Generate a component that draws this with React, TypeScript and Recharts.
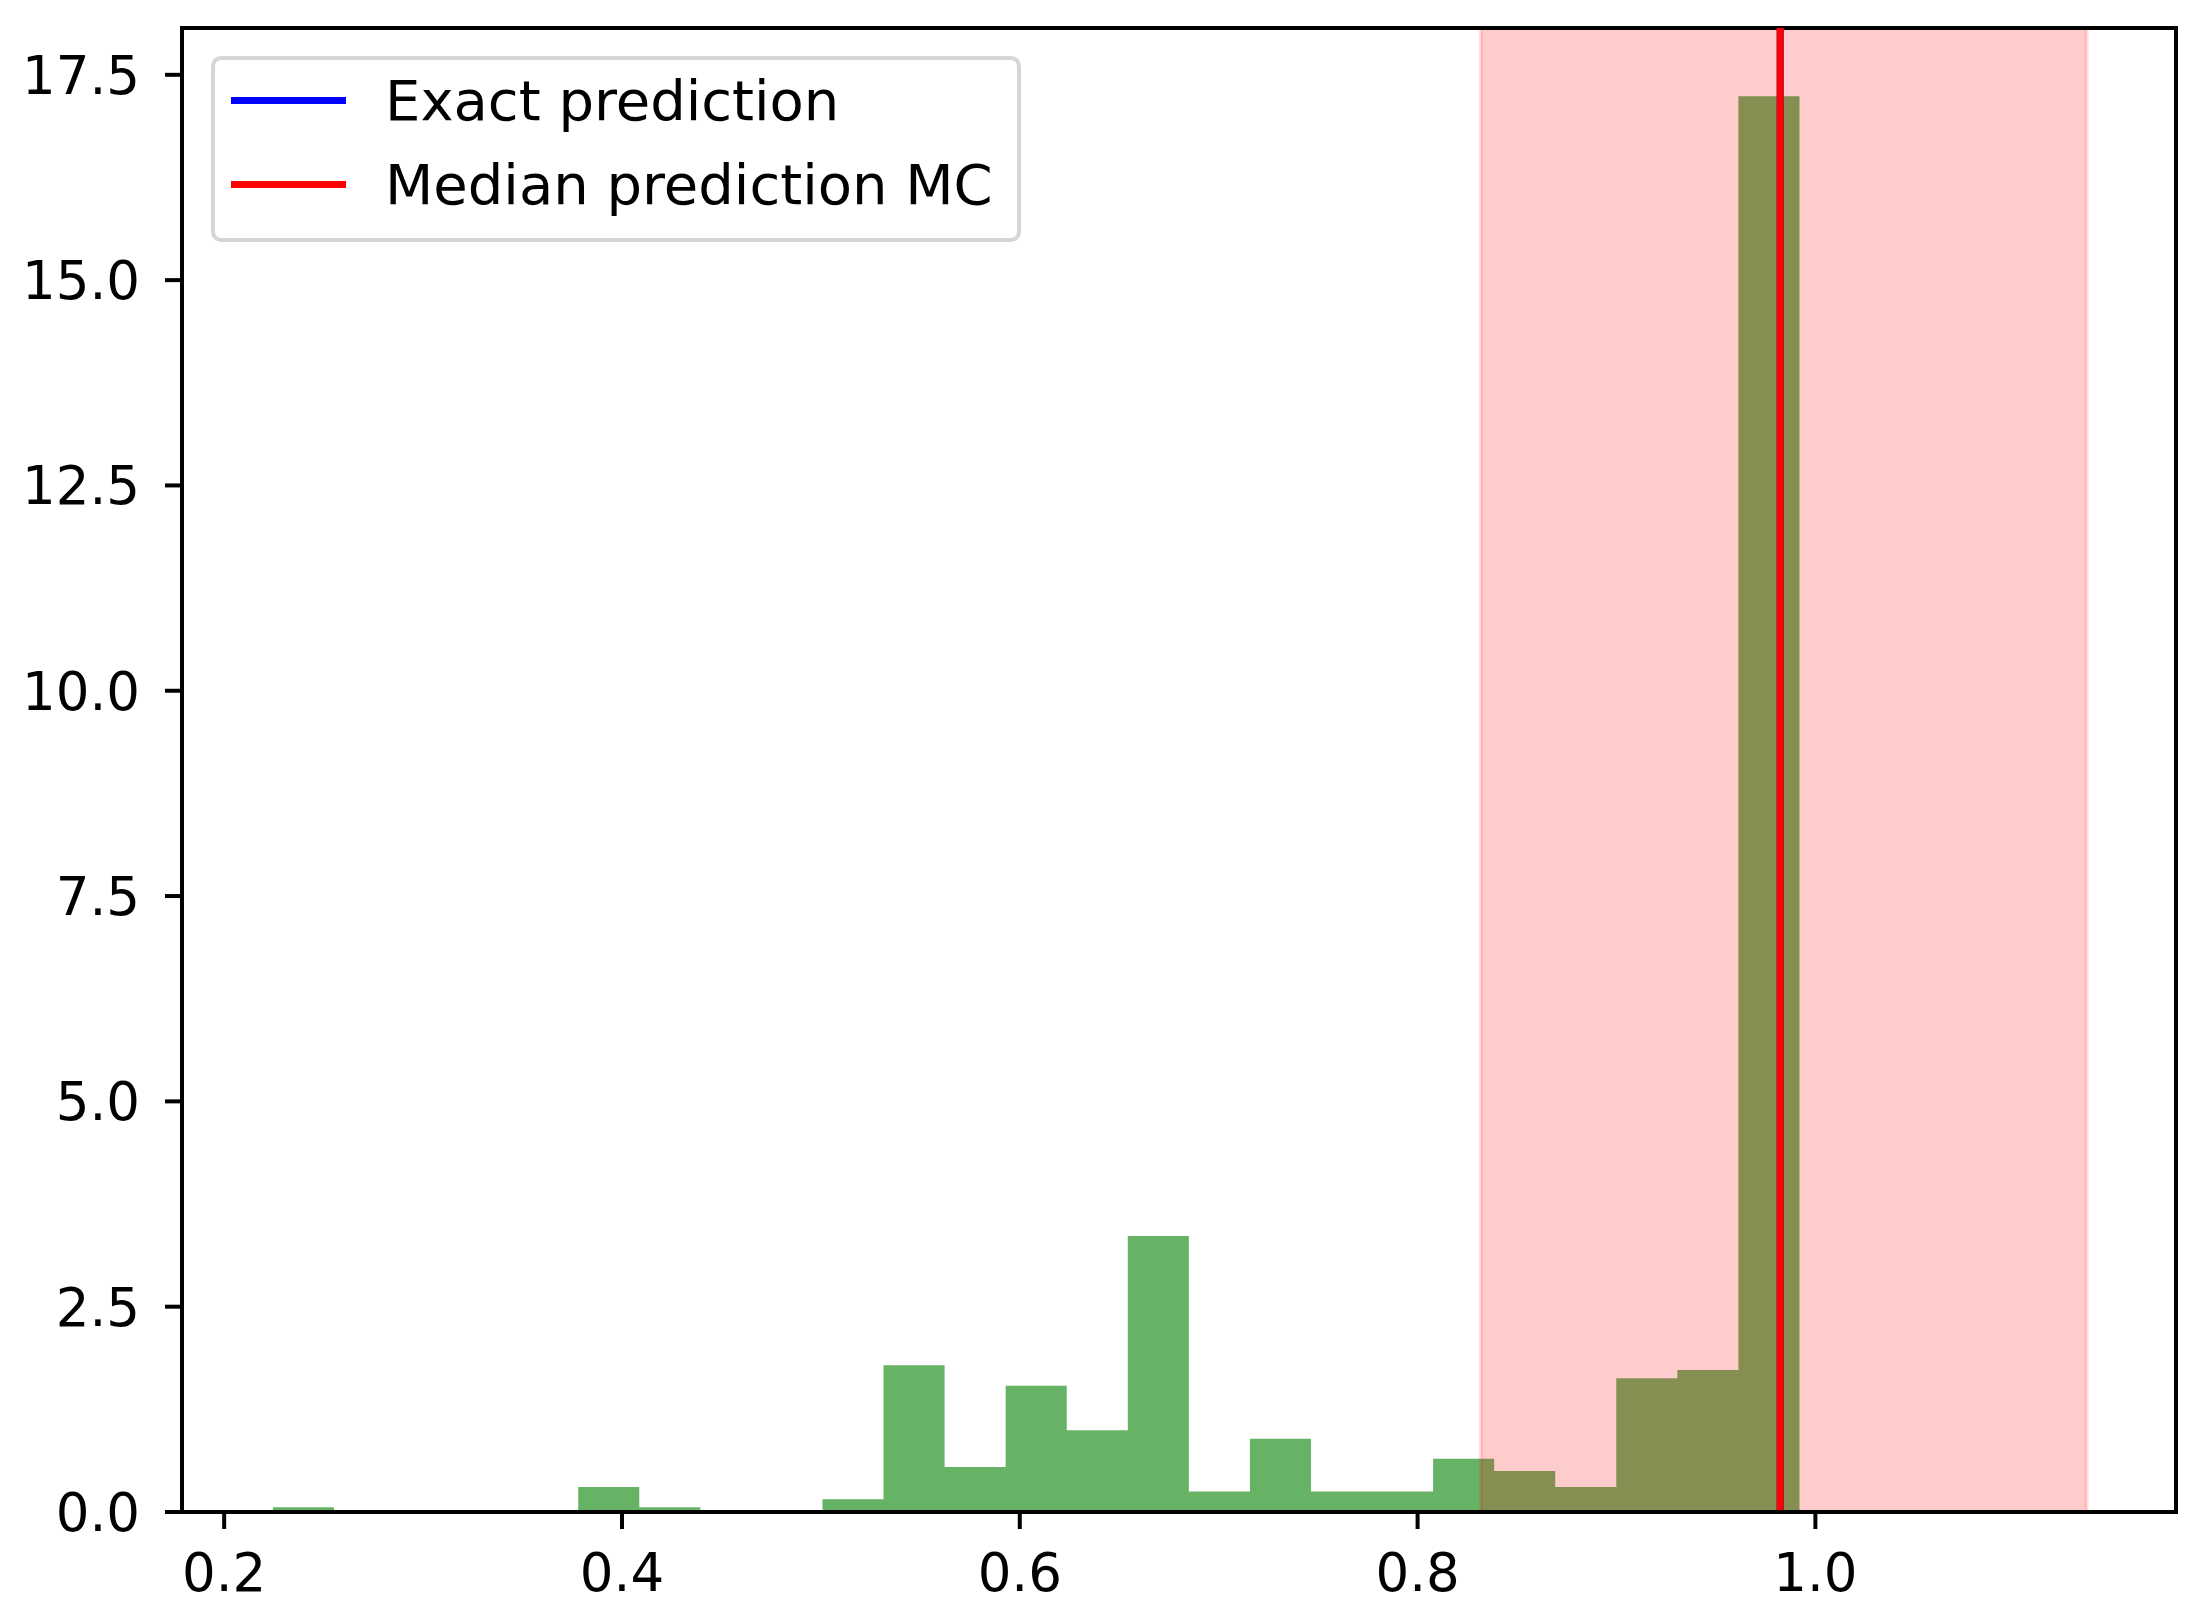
import React from 'react';
import { ComposedChart, Area, XAxis, YAxis, ReferenceArea, ReferenceLine, Legend } from 'recharts';

// histogram bins (left edges + final right edge) and densities
const binEdges = [
  0.2245, 0.2552, 0.2859, 0.3166, 0.3473, 0.378, 0.4087, 0.4394, 0.4701, 0.5008,
  0.5315, 0.5622, 0.5929, 0.6236, 0.6543, 0.685, 0.7157, 0.7464, 0.7771, 0.8078,
  0.8385, 0.8692, 0.8999, 0.9306, 0.9613, 0.992,
];
const binHeights = [
  0.057, 0, 0, 0, 0, 0.303, 0.057, 0, 0, 0.156,
  1.787, 0.549, 1.537, 0.996, 3.36, 0.25, 0.893, 0.25, 0.25, 0.648,
  0.5, 0.303, 1.63, 1.73, 17.24,
];

const exactPrediction = 0.9823;
const medianPrediction = 0.9823;
const intervalLow = 0.8318;
const intervalHigh = 1.1364;

const xTicks = [0.2, 0.4, 0.6, 0.8, 1.0];
const yTicks = [0, 2.5, 5, 7.5, 10, 12.5, 15, 17.5];
const xDomain = [0.1788, 1.1813];
const yDomain = [0, 18.07];

const legendItems = [
  { label: 'Exact prediction', color: '#0000ff' },
  { label: 'Median prediction MC', color: '#ff0000' },
];

// last edge repeats the last height so the step closes the final bin
const histData = binEdges.map((x, i) => ({
  x,
  density: binHeights[Math.min(i, binHeights.length - 1)],
}));

const FONT = '"DejaVu Sans", sans-serif';
const tickStyle = { fontFamily: FONT, fontSize: 53, fill: '#000' };

const LegendBox = () => (
  <div
    style={{
      position: 'relative',
      width: 810,
      height: 186,
      boxSizing: 'border-box',
      border: '4px solid #d6d6d6',
      borderRadius: 10,
      background: 'rgba(255,255,255,0.8)',
      fontFamily: FONT,
      fontSize: 56,
      color: '#000',
    }}
  >
    {legendItems.map((item, i) => (
      <React.Fragment key={item.label}>
        <div
          style={{
            position: 'absolute',
            left: 16,
            top: 37 + i * 84,
            width: 115,
            height: 7,
            background: item.color,
          }}
        />
        <div
          style={{
            position: 'absolute',
            left: 170,
            top: 9 + i * 84,
            height: 64,
            lineHeight: '64px',
            whiteSpace: 'nowrap',
          }}
        >
          {item.label}
        </div>
      </React.Fragment>
    ))}
  </div>
);

export default function App() {
  return (
    <div style={{ position: 'absolute', left: 0, top: 0, width: 2201, height: 1614, background: '#fff' }}>
      <ComposedChart
        width={2201}
        height={1614}
        data={histData}
        margin={{ top: 28, right: 25, bottom: 0, left: 0 }}
      >
        <XAxis
          type="number"
          dataKey="x"
          domain={xDomain}
          allowDataOverflow
          ticks={xTicks}
          tickFormatter={(v: number) => v.toFixed(1)}
          height={102}
          tickSize={17}
          tickMargin={24}
          tick={tickStyle}
          axisLine={{ stroke: '#000', strokeWidth: 4 }}
          tickLine={{ stroke: '#000', strokeWidth: 4 }}
        />
        <YAxis
          type="number"
          domain={yDomain}
          allowDataOverflow
          ticks={yTicks}
          tickFormatter={(v: number) => v.toFixed(1)}
          width={182}
          tickSize={17}
          tickMargin={25}
          tick={tickStyle}
          axisLine={{ stroke: '#000', strokeWidth: 4 }}
          tickLine={{ stroke: '#000', strokeWidth: 4 }}
        />
        <Area
          type="stepAfter"
          dataKey="density"
          stroke="none"
          fill="#008000"
          fillOpacity={0.6}
          isAnimationActive={false}
          dot={false}
          activeDot={false}
        />
        <ReferenceArea
          x1={intervalLow}
          x2={intervalHigh}
          fill="#ff0000"
          fillOpacity={0.2}
          stroke="#ff0000"
          strokeOpacity={0.12}
          strokeWidth={4}
        />
        <ReferenceLine x={exactPrediction} stroke="#0000ff" strokeWidth={7} />
        <ReferenceLine x={medianPrediction} stroke="#ff0000" strokeWidth={7} />
        <ReferenceArea
          x1={xDomain[0]}
          x2={xDomain[1]}
          y1={yDomain[0]}
          y2={yDomain[1]}
          fill="none"
          stroke="#000"
          strokeWidth={4}
        />
        <Legend
          layout="horizontal"
          verticalAlign="middle"
          align="center"
          content={() => <LegendBox />}
          wrapperStyle={{ left: 211, top: 56, width: 810, height: 186 }}
        />
      </ComposedChart>
    </div>
  );
}
